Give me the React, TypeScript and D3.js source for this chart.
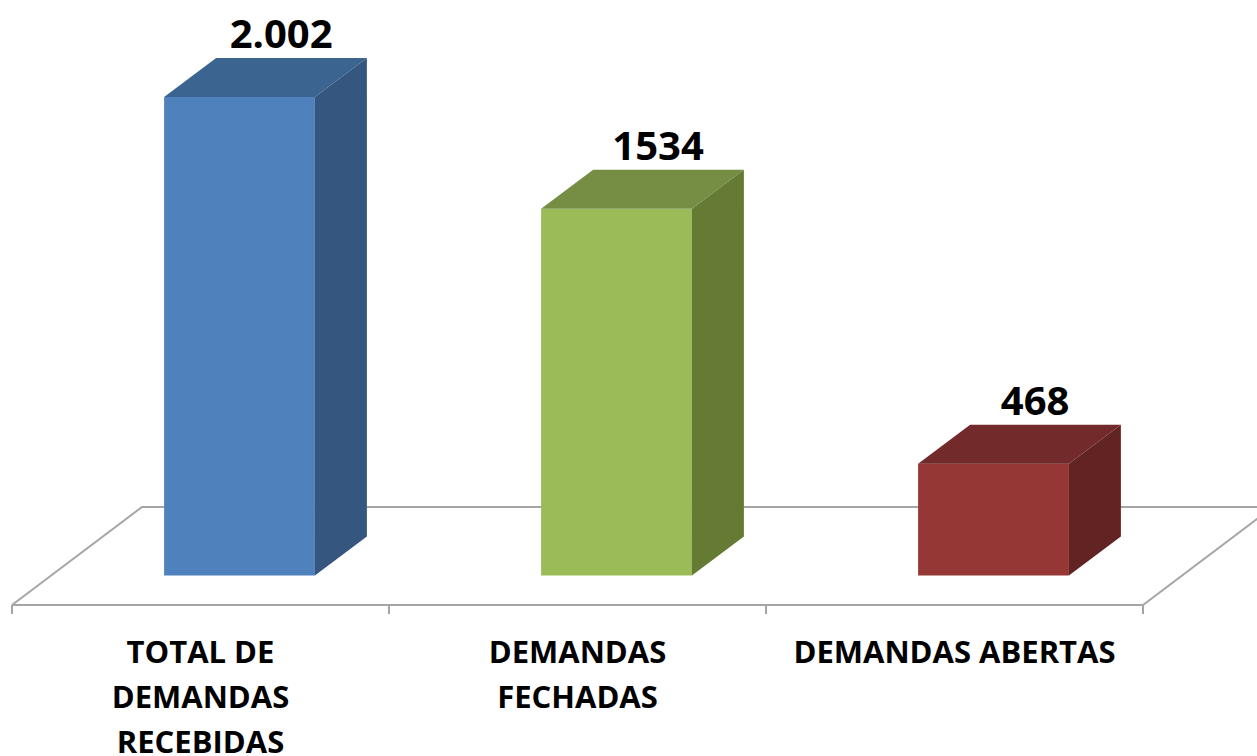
import * as d3 from 'd3'

const categories = ['TOTAL DE|DEMANDAS|RECEBIDAS', 'DEMANDAS|FECHADAS', 'DEMANDAS ABERTAS']
const values = [2002, 1534, 468]
const valueLabels = ['2.002', '1534', '468']
const fronts = ['#4F81BD', '#9BBB59', '#953735']
const tops = ['#3C6491', '#758E43', '#722B2A']
const sides = ['#34567F', '#657A33', '#622423']

const W = 1257
const H = 756
const FONT = '"Open Sans", "DejaVu Sans", sans-serif'

export default function App() {
  // floor front edge + 3d depth
  const floorY = 605
  const floorDx = 130
  const floorDy = -98
  const barDx = 52
  const barDy = -39
  // bars sit centred in the floor depth
  const offX = (floorDx - barDx) / 2 - 0
  const offY = (floorDy - barDy) / 2

  const x = d3.scaleBand<string>().domain(categories).range([12, 1143]).padding(0)
  const y = d3.scaleLinear().domain([0, 2002]).range([floorY + offY, 97])
  const barW = x.bandwidth() * 0.4

  const floor = d3.line()([
    [x.range()[0], floorY],
    [x.range()[1], floorY],
    [x.range()[1] + floorDx, floorY + floorDy],
    [x.range()[0] + floorDx, floorY + floorDy],
    [x.range()[0], floorY],
  ])

  const ticks = [...categories.map((c) => x(c)!), x.range()[1]]

  return (
    <svg width={W} height={H} style={{ position: 'absolute', left: 0, top: 0, background: '#fff' }}>
      <path d={floor!} fill="none" stroke="#a6a6a6" strokeWidth={2} />
      {ticks.map((t, i) => (
        <line key={i} x1={t} x2={t} y1={floorY} y2={floorY + 9} stroke="#a6a6a6" strokeWidth={2} />
      ))}
      {categories.map((c, i) => {
        const x0 = x(c)! + (x.bandwidth() - barW) / 2 + offX
        const x1 = x0 + barW
        const yb = y(0)
        const yt = y(values[i])
        const top = d3.line()([
          [x0, yt], [x1, yt], [x1 + barDx, yt + barDy], [x0 + barDx, yt + barDy],
        ])
        const side = d3.line()([
          [x1, yt], [x1 + barDx, yt + barDy], [x1 + barDx, yb + barDy], [x1, yb],
        ])
        return (
          <g key={c}>
            <rect x={x0} y={yt} width={barW} height={yb - yt} fill={fronts[i]} />
            <path d={top + 'Z'} fill={tops[i]} />
            <path d={side + 'Z'} fill={sides[i]} />
            <text
              x={(x0 + x1) / 2 + barDx * 0.8}
              y={yt + barDy - 10}
              textAnchor="middle"
              fontFamily={FONT}
              fontWeight="bold"
              fontSize={40}
              fill="#000"
            >
              {valueLabels[i]}
            </text>
          </g>
        )
      })}
      {categories.map((c) => (
        <text
          key={c}
          x={x(c)! + x.bandwidth() / 2}
          y={663}
          textAnchor="middle"
          fontFamily={FONT}
          fontWeight="bold"
          fontSize={31}
          fill="#000"
        >
          {c.split('|').map((ln, j) => (
            <tspan key={j} x={x(c)! + x.bandwidth() / 2} dy={j === 0 ? 0 : 45}>
              {ln}
            </tspan>
          ))}
        </text>
      ))}
    </svg>
  )
}
